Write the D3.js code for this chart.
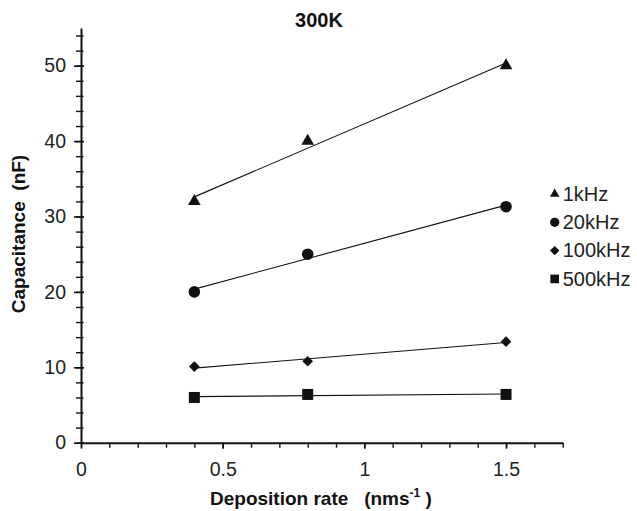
<!DOCTYPE html>
<html lang="en">
<head>
  <meta charset="UTF-8">
  <title>Capacitance vs deposition rate, 300K</title>
  <script src="https://d3js.org/d3.v7.min.js"></script>
  <style>
    body { margin: 0; background: #fff; }
    svg { display: block; font-family: "Liberation Sans", Arial, sans-serif; }
    .pre { white-space: pre; }
  </style>
</head>
<body>
  <div id="chart"></div>
  <script>
    // Data
    const rates = [0.4, 0.8, 1.5];
    const freqs = ["1kHz", "20kHz", "100kHz", "500kHz"];
    const cap1k = [32, 40, 50];
    const cap20k = [20, 25, 31.3];
    const cap100k = [10.1, 10.8, 13.4];
    const cap500k = [6, 6.4, 6.4];
    const xTicks = [0, 0.5, 1, 1.5];
    const yTicks = [0, 10, 20, 30, 40, 50];

    const series = [
      { name: freqs[0], values: cap1k, symbol: d3.symbolTriangle, size: 70, lsize: 40, rot: 0 },
      { name: freqs[1], values: cap20k, symbol: d3.symbolCircle, size: 105, lsize: 68, rot: 0 },
      { name: freqs[2], values: cap100k, symbol: d3.symbolSquare, size: 57, lsize: 44, rot: 45 },
      { name: freqs[3], values: cap500k, symbol: d3.symbolSquare, size: 121, lsize: 75, rot: 0 }
    ];

    const width = 637, height = 511;
    const mLeft = 81, mRight = 562.7, mTop = 28, mBottom = 442.7;

    const x = d3.scaleLinear().domain([0, 1.7]).range([mLeft, mRight]);
    const y = d3.scaleLinear().domain([0, 55]).range([mBottom, mTop]);

    const svg = d3.select("#chart").append("svg")
      .attr("width", width).attr("height", height);

    // minor ticks
    svg.append("g")
      .attr("transform", `translate(0,${mBottom})`)
      .call(d3.axisBottom(x).tickValues(d3.range(0, 1.71, 0.1)).tickSize(5).tickFormat(""))
      .call(g => g.select(".domain").remove())
      .selectAll("line").attr("stroke-width", 1.4).attr("stroke", "#111");
    svg.append("g")
      .attr("transform", `translate(${mLeft},0)`)
      .call(d3.axisLeft(y).tickValues(d3.range(0, 55.1, 2)).tickSize(5).tickFormat(""))
      .call(g => g.select(".domain").remove())
      .selectAll("line").attr("x1", 2.5).attr("stroke-width", 1.4).attr("stroke", "#111");

    // major ticks + labels
    const xAxis = svg.append("g")
      .attr("transform", `translate(0,${mBottom})`)
      .call(d3.axisBottom(x).tickValues(xTicks).tickSize(6).tickSizeOuter(0).tickPadding(13)
        .tickFormat(d => d3.format("")(d)));
    const yAxis = svg.append("g")
      .attr("transform", `translate(${mLeft},0)`)
      .call(d3.axisLeft(y).tickValues(yTicks).tickSize(7).tickSizeOuter(0).tickPadding(8));
    yAxis.selectAll(".tick line").attr("x1", 3);
    [xAxis, yAxis].forEach(g => {
      g.select(".domain").attr("stroke-width", 2).attr("stroke", "#111");
      g.selectAll("line").attr("stroke-width", 1.6).attr("stroke", "#111");
      g.selectAll("text").attr("font-size", 19.5).attr("fill", "#222")
        .attr("font-family", "Liberation Sans, Arial, sans-serif");
    });

    // trendlines (least squares) and markers
    series.forEach(s => {
      const pts = rates.map((r, i) => [r, s.values[i]]);
      const mx = d3.mean(rates), my = d3.mean(s.values);
      const sxy = d3.sum(pts, p => (p[0] - mx) * (p[1] - my));
      const sxx = d3.sum(rates, r => (r - mx) * (r - mx));
      const b = sxy / sxx, a = my - b * mx;
      const x0 = rates[0], x1 = rates[rates.length - 1];
      svg.append("line")
        .attr("x1", x(x0)).attr("y1", y(a + b * x0))
        .attr("x2", x(x1)).attr("y2", y(a + b * x1))
        .attr("stroke", "#111").attr("stroke-width", 1.1);
      svg.selectAll(null).data(pts).enter().append("path")
        .attr("d", d3.symbol().type(s.symbol).size(s.size))
        .attr("transform", p => `translate(${x(p[0])},${y(p[1])}) rotate(${s.rot})`)
        .attr("fill", "#111");
    });

    // legend
    const legend = svg.append("g").attr("transform", "translate(554.7,194)");
    series.forEach((s, i) => {
      const row = legend.append("g").attr("transform", `translate(0,${i * 28.3})`);
      row.append("path")
        .attr("d", d3.symbol().type(s.symbol).size(s.lsize))
        .attr("transform", `rotate(${s.rot})`)
        .attr("fill", "#111");
      row.append("text")
        .attr("x", 8).attr("y", 6.8)
        .attr("font-size", 20).attr("fill", "#222")
        .text(s.name);
    });

    // title
    svg.append("text")
      .attr("x", 319).attr("y", 27)
      .attr("text-anchor", "middle")
      .attr("font-size", 20).attr("font-weight", "bold")
      .attr("fill", "#111")
      .text("300K");

    // axis titles
    svg.append("text")
      .attr("class", "pre")
      .attr("transform", "translate(25,234) rotate(-90)")
      .attr("text-anchor", "middle")
      .attr("font-size", 19).attr("font-weight", "bold")
      .attr("fill", "#111")
      .text("Capacitance  (nF)");

    const xl = svg.append("text")
      .attr("class", "pre")
      .attr("x", 210).attr("y", 505)
      .attr("font-size", 19).attr("font-weight", "bold")
      .attr("fill", "#111");
    xl.append("tspan").text("Deposition rate   (nms");
    xl.append("tspan").attr("dy", -8).attr("font-size", 12).text("-1");
    xl.append("tspan").attr("dy", 8).text(" )");
  </script>
</body>
</html>
